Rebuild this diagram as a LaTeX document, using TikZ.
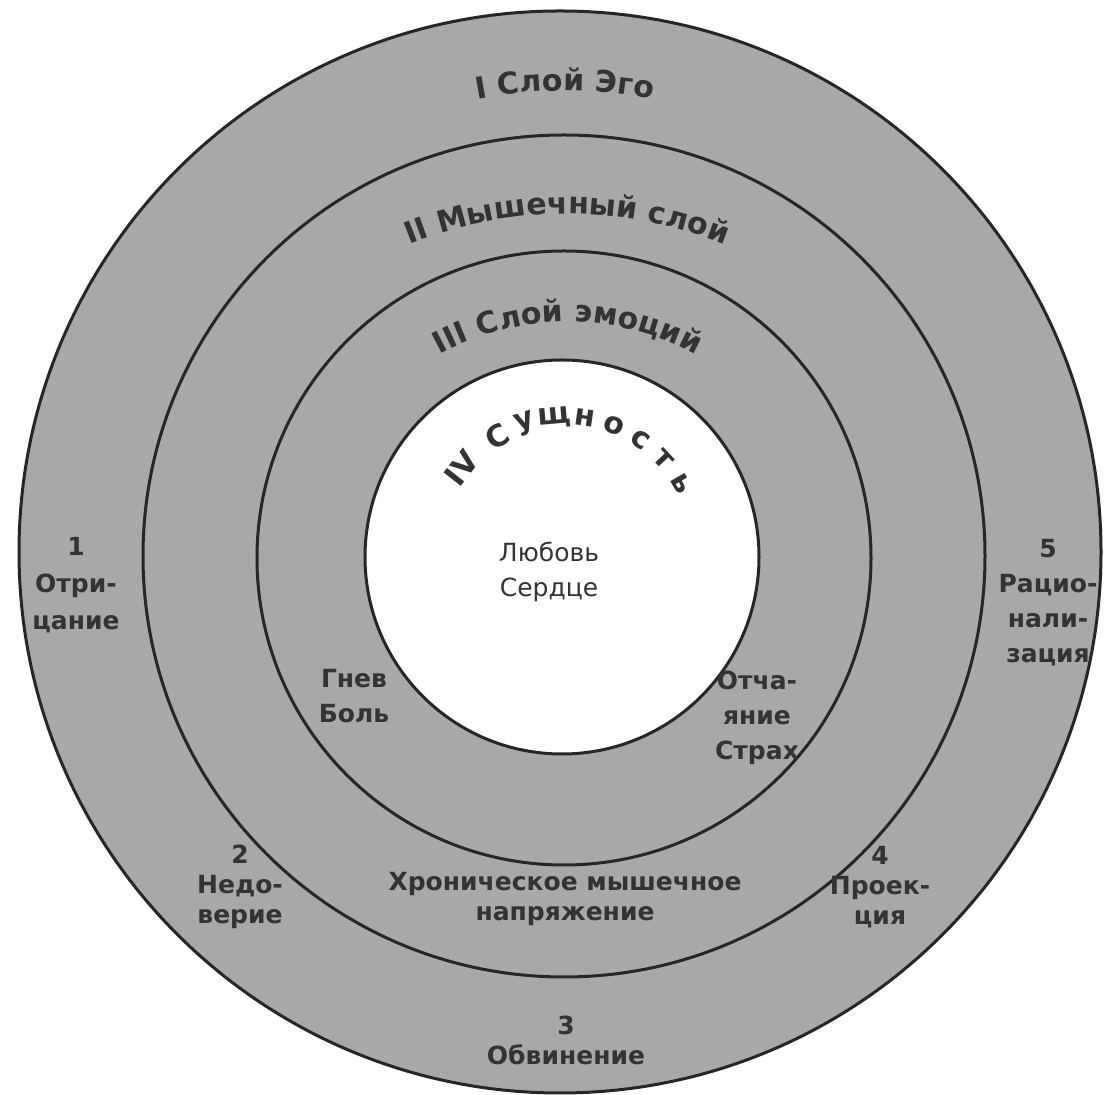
\documentclass[tikz,border=0pt]{standalone}
\usepackage{fontspec}
\setmainfont{DejaVu Sans}
\usetikzlibrary{decorations.text,calc}
\definecolor{ringgray}{gray}{0.66}
\definecolor{inkgray}{gray}{0.2}
\newcommand{\bodyfont}{\bfseries\fontsize{25}{35}\selectfont}
\newcommand{\titlefont}{\bfseries\fontsize{30}{32}\selectfont}
\begin{document}
\begin{tikzpicture}[x=1pt,y=1pt,
  ring/.style={circle, draw=black!85, line width=3pt, fill=ringgray, inner sep=0pt},
  core/.style={circle, draw=black!85, line width=3pt, fill=white, inner sep=0pt},
  lbl/.style={text=inkgray, font=\bodyfont, align=center, inner sep=0pt},
  lbltight/.style={lbl, font=\bfseries\fontsize{25}{30}\selectfont},
  lettr/.style={text=inkgray, font=\titlefont, inner sep=0pt},
  arctext/.style={decorate, decoration={text along path, text align=center, text color=inkgray}}
]
\useasboundingbox (0,0) rectangle (1109,1095);
% circles
\node[ring, minimum size=1082pt] (ego) at (560,543) {};
\node[ring, minimum size=842pt] (musc) at (564,539) {};
\node[ring, minimum size=614pt] (emo) at (564,537) {};
\node[core, minimum size=394pt] (ess) at (562,538) {};
% curved titles
\path[arctext, decoration={text={|\titlefont|I Слой Эго}}]
  (565,540) ++(165:464) arc[start angle=165, end angle=15, radius=464];
\path[arctext, decoration={text={|\titlefont|II Мышечный слой}}]
  (567,461) ++(160:420) arc[start angle=160, end angle=20, radius=420];
\path[arctext, decoration={text={|\titlefont|III Слой эмоций}}]
  (568,505) ++(170:268) arc[start angle=170, end angle=10, radius=268];
% IV Sushchnost, letter by letter
\coordinate (sc) at (566,545);
\foreach \ch/\ang [count=\i] in {IV/142,С/121,у/108,щ/95,н/82,о/69,с/56,т/43,ь/30}{
  \node[lettr, rotate=\ang-90] (s\i) at ($(sc)+(\ang:133)$) {\ch};
}
% inner labels
\node[lbl, font=\fontsize{25}{35}\selectfont] (love) at (549,523) {Любовь\\Сердце};
\node[lbl] (anger) at (354,399) {Гнев\\Боль};
\node[lbl] (despair) at (757,377) {Отча-\\яние\\Страх};
\node[lbl, font=\bfseries\fontsize{25}{37}\selectfont] (d1) at (76,510) {1\\Отри-\\цание};
\node[lbl] (d5) at (1048,492) {5\\Рацио-\\нали-\\зация};
\node[lbltight] (d2) at (240,208) {2\\Недо-\\верие};
\node[lbltight] (tension) at (565,196) {Хроническое мышечное\\напряжение};
\node[lbltight] (d4) at (880,208) {4\\Проек-\\ция};
\node[lbltight] (d3) at (566,55) {3\\Обвинение};
\end{tikzpicture}
\end{document}
